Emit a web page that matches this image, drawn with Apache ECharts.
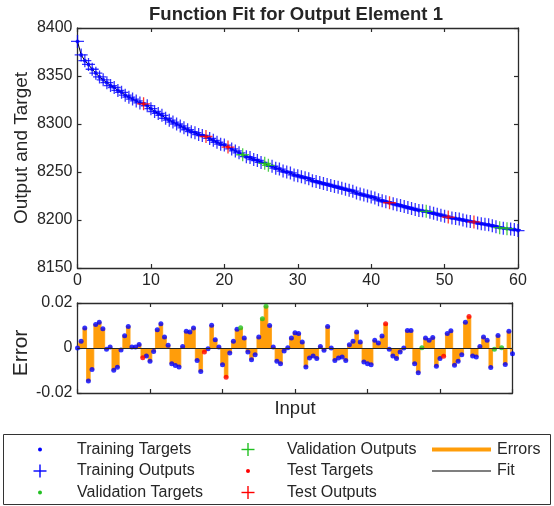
<!DOCTYPE html>
<html>
<head>
<meta charset="utf-8">
<script src="https://cdn.jsdelivr.net/npm/echarts@6/dist/echarts.min.js"></script>
<style>
html, body { margin: 0; padding: 0; background: #fff; }
#main { width: 554px; height: 506px; }
</style>
</head>
<body>
<div id="main"></div>
<script>
// input values (x), one sample every 0.5
var inputs = [
    0, 0.5, 1, 1.5, 2, 2.5, 3, 3.5, 4, 4.5,
    5, 5.5, 6, 6.5, 7, 7.5, 8, 8.5, 9, 9.5,
    10, 10.5, 11, 11.5, 12, 12.5, 13, 13.5, 14, 14.5,
    15, 15.5, 16, 16.5, 17, 17.5, 18, 18.5, 19, 19.5,
    20, 20.5, 21, 21.5, 22, 22.5, 23, 23.5, 24, 24.5,
    25, 25.5, 26, 26.5, 27, 27.5, 28, 28.5, 29, 29.5,
    30, 30.5, 31, 31.5, 32, 32.5, 33, 33.5, 34, 34.5,
    35, 35.5, 36, 36.5, 37, 37.5, 38, 38.5, 39, 39.5,
    40, 40.5, 41, 41.5, 42, 42.5, 43, 43.5, 44, 44.5,
    45, 45.5, 46, 46.5, 47, 47.5, 48, 48.5, 49, 49.5,
    50, 50.5, 51, 51.5, 52, 52.5, 53, 53.5, 54, 54.5,
    55, 55.5, 56, 56.5, 57, 57.5, 58, 58.5, 59, 59.5,
    60
];
// targets
var targets = [
    8386, 8372, 8366, 8362, 8357, 8353, 8349, 8346, 8343, 8340,
    8338, 8335, 8333, 8330, 8328, 8326, 8324, 8322, 8321, 8319,
    8316, 8313, 8311, 8309, 8306, 8304, 8302, 8300, 8298, 8296,
    8294, 8292, 8291, 8289, 8288, 8287, 8285, 8283, 8281, 8279,
    8278, 8276, 8274, 8272, 8270, 8268, 8266, 8265, 8263, 8262,
    8260, 8259, 8257, 8256, 8254, 8253, 8251, 8250, 8249, 8247,
    8246, 8245, 8244, 8243, 8241, 8240, 8239, 8238, 8237, 8236,
    8235, 8234, 8233, 8232, 8231, 8230, 8228, 8227, 8226, 8225,
    8224, 8223, 8221, 8220, 8219, 8218, 8217, 8216, 8215, 8214,
    8213, 8212, 8211, 8210, 8209.5, 8209, 8208, 8207, 8206, 8205,
    8204, 8203, 8202, 8201.5, 8201, 8200, 8199, 8198.5, 8198, 8197,
    8196, 8195.5, 8195, 8194, 8193, 8192, 8191.5, 8191, 8190.5, 8190,
    8189
];
// errors (targets - outputs)
var errors = [
    0, 0.003, 0.0089, -0.0147, -0.0096, 0.0104, 0.0115, 0.0086, -0.0006, 0.0004,
    -0.0099, -0.0086, -0.0009, 0.0055, 0.0096, 0.0004, 0.0004, 0.0016, -0.0043, -0.0035,
    -0.0059, -0.0015, 0.0081, 0.0108, 0.0049, 0.0012, -0.007, -0.0078, -0.0084, 0.0007,
    0.0075, 0.0071, 0.0089, -0.0055, -0.0104, -0.0018, -0.0003, 0.0101, 0.0037, 0.0005,
    -0.0074, -0.013, -0.0022, 0.003, 0.0083, 0.009, 0.0044, -0.0018, -0.0052, -0.003,
    0.0049, 0.013, 0.0186, 0.010, 0.0004, -0.0059, -0.007, -0.0013, 0.0001, 0.0044,
    0.0068, 0.0064, 0.0027, -0.0084, -0.0044, -0.0036, -0.0047, 0.0007, -0.001, 0.0096,
    0, -0.0055, -0.0044, -0.004, -0.0055, 0.0015, 0.003, 0.0071, 0.0027, -0.0062,
    -0.007, -0.0074, 0.0034, 0.0022, 0.0053, 0.0108, -0.0006, -0.0036, -0.0047, -0.0018,
    0, 0.0078, 0.0078, -0.007, -0.011, 0.0001, 0.0044, 0.0034, 0.0047, -0.0081,
    -0.0047, -0.0037, 0.0064, 0.0077, -0.0077, -0.0059, -0.003, 0.0115, 0.014, -0.0036,
    -0.004, 0.0007, 0.0049, 0.0034, -0.0087, -0.0006, 0.0056, 0.0001, -0.0073, 0.0075,
    -0.0025
];
var validationInputs = [22.5, 25.5, 26, 47.5, 57.5, 58.5];
var testInputs = [9, 17.5, 20.5, 42.5, 50.5, 54];

var outputs = [];
for (var i = 0; i < targets.length; i++) {
    outputs.push(targets[i] - errors[i]);
}

function groupOf(x) {
    if (testInputs.indexOf(x) >= 0) return 'test';
    if (validationInputs.indexOf(x) >= 0) return 'val';
    return 'train';
}
function pairs(vals, group) {
    var out = [];
    for (var i = 0; i < inputs.length; i++) {
        if (!group || groupOf(inputs[i]) === group) out.push([inputs[i], vals[i]]);
    }
    return out;
}

var BLUE = '#0000ff', GREEN = '#22c022', RED = '#ff0000', ORANGE = '#ff9d0a';
var AXIS = '#2b2b2b';
var FONT = 'Liberation Sans, Arial, sans-serif';
var PLUS = 'path://M0,6L12,6M6,0L6,12';

function axisBase(extra) {
    var a = {
        type: 'value',
        axisLine: { show: true, onZero: false, lineStyle: { color: AXIS, width: 1.3 } },
        axisTick: { show: true, inside: true, length: 4, lineStyle: { color: AXIS, width: 1.2 } },
        axisLabel: { show: false },
        splitLine: { show: false },
        nameMoveOverlap: false
    };
    for (var k in extra) a[k] = extra[k];
    return a;
}
function labels(formatter) {
    return { show: true, color: '#262626', fontSize: 16, fontFamily: FONT, margin: 5, formatter: formatter };
}

function plusSeries(name, data, color) {
    return {
        name: name, type: 'scatter', xAxisIndex: 0, yAxisIndex: 0,
        data: data, symbol: PLUS, symbolSize: 13, z: 4,
        itemStyle: { color: color, borderColor: color, borderWidth: 1.3 }
    };
}
function dotSeries(name, data, color, xi, yi, size, z) {
    return {
        name: name, type: 'scatter', xAxisIndex: xi, yAxisIndex: yi,
        data: data, symbol: 'circle', symbolSize: size, z: z,
        itemStyle: { color: color }
    };
}

var option = {
    animation: false,
    backgroundColor: '#fff',
    title: {
        text: 'Function Fit for Output Element 1',
        left: 296, top: 5, padding: 0, textAlign: 'center',
        textStyle: { fontSize: 18.5, fontWeight: 'bold', color: '#262626', fontFamily: FONT }
    },
    grid: [
        { left: 77.5, top: 28, width: 440.5, height: 240 },
        { left: 77.5, top: 303, width: 435, height: 90 }
    ],
    xAxis: [
        axisBase({ gridIndex: 0, position: 'bottom', min: 0, max: 60, interval: 10,
            axisLabel: labels(function (v) { return String(v); }) }),
        axisBase({ gridIndex: 0, position: 'top', min: 0, max: 60, interval: 10 }),
        axisBase({ gridIndex: 1, position: 'bottom', min: 0, max: 60, interval: 10,
            name: 'Input', nameLocation: 'middle', nameGap: 6,
            nameTextStyle: { fontSize: 18.5, color: '#262626', fontFamily: FONT, verticalAlign: 'top' } }),
        axisBase({ gridIndex: 1, position: 'top', min: 0, max: 60, interval: 10 })
    ],
    yAxis: [
        axisBase({ gridIndex: 0, position: 'left', min: 8150, max: 8400, interval: 50,
            axisLabel: labels(function (v) { return String(v); }),
            name: 'Output and Target', nameLocation: 'middle', nameGap: 46,
            nameTextStyle: { fontSize: 19, color: '#262626', fontFamily: FONT } }),
        axisBase({ gridIndex: 0, position: 'right', min: 8150, max: 8400, interval: 50 }),
        axisBase({ gridIndex: 1, position: 'left', min: -0.02, max: 0.02, interval: 0.02,
            axisLabel: labels(function (v) { return Math.abs(v) < 1e-9 ? '0' : v.toFixed(2); }),
            name: 'Error', nameLocation: 'middle', nameGap: 46,
            nameTextStyle: { fontSize: 21, color: '#262626', fontFamily: FONT, padding: [0, 10, 0, 0] } }),
        axisBase({ gridIndex: 1, position: 'right', min: -0.02, max: 0.02, interval: 0.02 })
    ],
    series: [
        {
            name: 'Fit', type: 'line', xAxisIndex: 0, yAxisIndex: 0,
            data: pairs(outputs), symbol: 'none', z: 1,
            lineStyle: { color: '#000', width: 1 }
        },
        dotSeries('Training Targets', pairs(targets, 'train'), BLUE, 0, 0, 4, 2),
        dotSeries('Validation Targets', pairs(targets, 'val'), GREEN, 0, 0, 4, 2),
        dotSeries('Test Targets', pairs(targets, 'test'), RED, 0, 0, 4, 2),
        plusSeries('Training Outputs', pairs(outputs, 'train'), BLUE),
        plusSeries('Validation Outputs', pairs(outputs, 'val'), GREEN),
        plusSeries('Test Outputs', pairs(outputs, 'test'), RED),
        {
            // thick orange error stems, merged into blocks like the original
            name: 'Errors', type: 'line', xAxisIndex: 2, yAxisIndex: 2,
            data: pairs(errors), step: 'middle', symbol: 'none', z: 2,
            lineStyle: { color: ORANGE, width: 0.8 },
            areaStyle: { color: ORANGE, opacity: 1 },
            markLine: {
                silent: true, symbol: 'none', label: { show: false },
                lineStyle: { color: '#222', width: 1, type: 'solid' },
                data: [{ yAxis: 0 }]
            }
        },
        dotSeries('Training Errors', pairs(errors, 'train'), BLUE, 2, 2, 5, 4),
        dotSeries('Validation Errors', pairs(errors, 'val'), GREEN, 2, 2, 5, 4),
        dotSeries('Test Errors', pairs(errors, 'test'), RED, 2, 2, 5, 4)
    ]
};

// legend box drawn as graphics, laid out like the MATLAB legend
var rows = [449.5, 471, 492.5];
var legendItems = [
    { col: 0, row: 0, text: 'Training Targets', icon: 'dot', color: BLUE },
    { col: 0, row: 1, text: 'Training Outputs', icon: 'plus', color: BLUE },
    { col: 0, row: 2, text: 'Validation Targets', icon: 'dot', color: GREEN },
    { col: 1, row: 0, text: 'Validation Outputs', icon: 'plus', color: GREEN },
    { col: 1, row: 1, text: 'Test Targets', icon: 'dot', color: RED },
    { col: 1, row: 2, text: 'Test Outputs', icon: 'plus', color: RED },
    { col: 2, row: 0, text: 'Errors', icon: 'thick', color: ORANGE },
    { col: 2, row: 1, text: 'Fit', icon: 'thin', color: '#000' }
];
var colIcon = [40, 248, 461];
var colText = [77, 287, 497];
var graphics = [{
    type: 'rect', shape: { x: 3.5, y: 434.5, width: 547, height: 70 },
    style: { fill: '#fff', stroke: '#333', lineWidth: 1 }, z: 10
}];
legendItems.forEach(function (it) {
    var cx = colIcon[it.col], cy = rows[it.row];
    if (it.icon === 'dot') {
        graphics.push({ type: 'circle', shape: { cx: cx, cy: cy, r: 2 }, style: { fill: it.color }, z: 11 });
    } else if (it.icon === 'plus') {
        graphics.push({ type: 'line', shape: { x1: cx - 6.5, y1: cy, x2: cx + 6.5, y2: cy }, style: { stroke: it.color, lineWidth: 1.4 }, z: 11 });
        graphics.push({ type: 'line', shape: { x1: cx, y1: cy - 6.5, x2: cx, y2: cy + 6.5 }, style: { stroke: it.color, lineWidth: 1.4 }, z: 11 });
    } else {
        graphics.push({ type: 'line', shape: { x1: 432, y1: cy, x2: 491, y2: cy },
            style: { stroke: it.color, lineWidth: it.icon === 'thick' ? 4 : 1.2 }, z: 11 });
    }
    graphics.push({
        type: 'text', x: colText[it.col], y: cy, z: 11,
        style: { text: it.text, fill: '#262626', font: '16px ' + FONT, verticalAlign: 'middle' }
    });
});
option.graphic = graphics;

var chart = echarts.init(document.getElementById('main'));
chart.setOption(option);
</script>
</body>
</html>
